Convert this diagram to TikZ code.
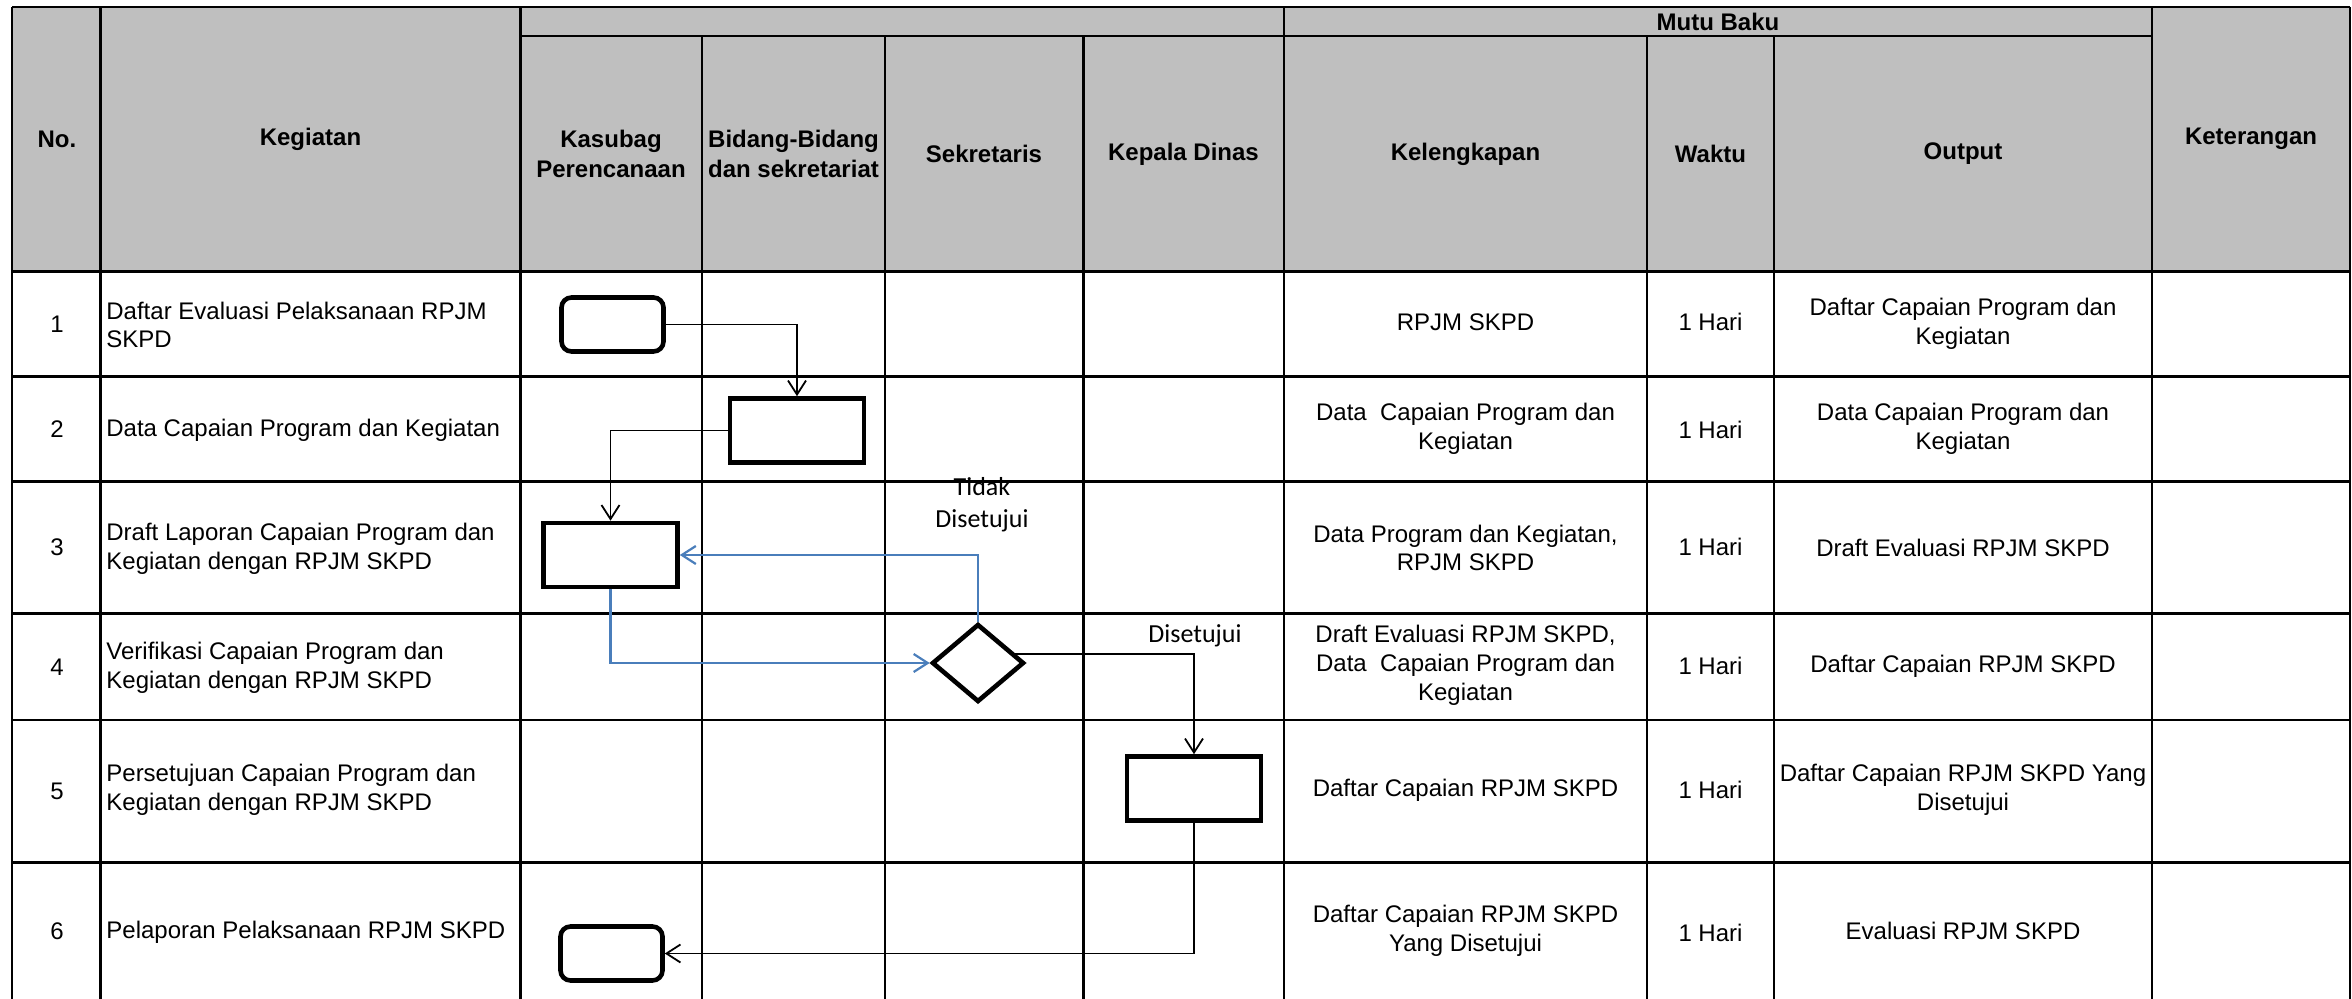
\documentclass[tikz,border=0pt]{standalone}
\usepackage{fontspec}
\setmainfont{Liberation Sans}
\newfontfamily\labelfont{Carlito}
\usetikzlibrary{shapes.geometric,arrows.meta}

\definecolor{hdrgray}{RGB}{191,191,191}
\definecolor{flowblue}{RGB}{74,126,187}

\begin{document}
\begin{tikzpicture}[%
    x=0.5pt, y=-0.5pt,
    grid/.style={line width=1.1pt},
    hdr/.style={font=\fontsize{12}{15}\selectfont\bfseries,align=center,inner sep=0pt},
    cell/.style={font=\fontsize{12}{14.4}\selectfont,align=center,inner sep=0pt},
    kegcell/.style={font=\fontsize{12}{14.4}\selectfont,align=left,anchor=west,inner sep=0pt},
    lbl/.style={font=\labelfont\fontsize{13}{16}\selectfont,align=center,inner sep=0pt},
    term/.style={draw,line width=2.3pt,rounded corners=5pt,minimum width=51pt,minimum height=27pt,inner sep=0pt},
    proc/.style={draw,line width=2.3pt,minimum width=67pt,minimum height=32pt,inner sep=0pt},
    decide/.style={draw,diamond,line width=2.3pt,minimum width=46pt,minimum height=39pt,inner sep=0pt},
    flow/.style={line width=0.9pt,-{Straight Barb[length=7pt,width=9pt]}},
    flowb/.style={flow,draw=flowblue,line width=1.1pt}
  ]
		\useasboundingbox (0,0) rectangle (2352,999);

		% header
		\fill[hdrgray] (12,7) rectangle (2350,271.5);
		\draw[grid] (12,7) -- (2350,7);
		\draw[grid] (520.5,36) -- (2152,36);
		\draw[grid] (12,271.5) -- (2350,271.5);
		\draw[grid] (12,376.5) -- (2350,376.5);
		\draw[grid] (12,481.5) -- (2350,481.5);
		\draw[grid] (12,613.5) -- (2350,613.5);
		\draw[grid] (12,720) -- (2350,720);
		\draw[grid] (12,862.5) -- (2350,862.5);

		\draw[grid] (12,7) -- (12,999);
		\draw[grid] (100.5,7) -- (100.5,999);
		\draw[grid] (520.5,7) -- (520.5,999);
		\draw[grid] (1284,7) -- (1284,999);
		\draw[grid] (2152,7) -- (2152,999);
		\draw[grid] (2350,7) -- (2350,999);
		\draw[grid] (702,36) -- (702,999);
		\draw[grid] (885,36) -- (885,999);
		\draw[grid] (1083.5,36) -- (1083.5,999);
		\draw[grid] (1647,36) -- (1647,999);
		\draw[grid] (1774,36) -- (1774,999);

		\node at (57,139) [hdr] (hno) {No.};
		\node at (310.5,139) [hdr] (hkeg) {Kegiatan};
		\node at (1718,22) [hdr] (hmutu) {Mutu Baku};
		\node at (611,154) [hdr] (hkas) {Kasubag\\Perencanaan};
		\node at (793.5,154) [hdr] (hbid) {Bidang-Bidang\\dan sekretariat};
		\node at (984,154) [hdr] (hsek) {Sekretaris};
		\node at (1183.5,154) [hdr] (hkep) {Kepala Dinas};
		\node at (1465.5,154) [hdr] (hkel) {Kelengkapan};
		\node at (1710.5,154) [hdr] (hwak) {Waktu};
		\node at (1963,154) [hdr] (hout) {Output};
		\node at (2251,139) [hdr] (hket) {Keterangan};

		% rows
		\node at (57,324) [cell] (no1) {1};
		\node at (57,429) [cell] (no2) {2};
		\node at (57,547.5) [cell] (no3) {3};
		\node at (57,667) [cell] (no4) {4};
		\node at (57,791) [cell] (no5) {5};
		\node at (57,931) [cell] (no6) {6};

		\node at (106,325) [kegcell] (keg1) {Daftar Evaluasi Pelaksanaan RPJM\\SKPD};
		\node at (106,430) [kegcell] (keg2) {Data Capaian Program dan Kegiatan};
		\node at (106,548.5) [kegcell] (keg3) {Draft Laporan Capaian Program dan\\Kegiatan dengan RPJM SKPD};
		\node at (106,668) [kegcell] (keg4) {Verifikasi Capaian Program dan\\Kegiatan dengan RPJM SKPD};
		\node at (106,790) [kegcell] (keg5) {Persetujuan Capaian Program dan\\Kegiatan dengan RPJM SKPD};
		\node at (106,932) [kegcell] (keg6) {Pelaporan Pelaksanaan RPJM SKPD};

		\node at (1465.5,322) [cell] (kel1) {RPJM SKPD};
		\node at (1465.5,429) [cell] (kel2) {Data\ \ Capaian Program dan\\Kegiatan};
		\node at (1465.5,548) [cell] (kel3) {Data Program dan Kegiatan,\\RPJM SKPD};
		\node at (1465.5,665) [cell] (kel4) {Draft Evaluasi RPJM SKPD,\\Data\ \ Capaian Program dan\\Kegiatan};
		\node at (1465.5,790) [cell] (kel5) {Daftar Capaian RPJM SKPD};
		\node at (1465.5,931) [cell] (kel6) {Daftar Capaian RPJM SKPD\\Yang Disetujui};

		\node at (1710.5,322) [cell] (wak1) {1 Hari};
		\node at (1710.5,430) [cell] (wak2) {1 Hari};
		\node at (1710.5,547) [cell] (wak3) {1 Hari};
		\node at (1710.5,666) [cell] (wak4) {1 Hari};
		\node at (1710.5,790) [cell] (wak5) {1 Hari};
		\node at (1710.5,933) [cell] (wak6) {1 Hari};

		\node at (1963,324) [cell] (out1) {Daftar Capaian Program dan\\Kegiatan};
		\node at (1963,429) [cell] (out2) {Data Capaian Program dan\\Kegiatan};
		\node at (1963,548) [cell] (out3) {Draft Evaluasi RPJM SKPD};
		\node at (1963,666) [cell] (out4) {Daftar Capaian RPJM SKPD};
		\node at (1963,790) [cell] (out5) {Daftar Capaian RPJM SKPD Yang\\Disetujui};
		\node at (1963,931) [cell] (out6) {Evaluasi RPJM SKPD};

		% flow
		\node at (612.5,324.5) [term] (t1) {};
		\node at (797,430.5) [proc] (p2) {};
		\node at (610.5,555) [proc] (p3) {};
		\node at (978,663) [decide] (d4) {};
		\node at (1194,788.5) [proc] (p5) {};
		\node at (611.5,953.5) [term] (t6) {};

		\node at (982,505) [lbl] (lblno) {Tidak\\Disetujui};
		\node at (1195,636) [lbl] (lblyes) {Disetujui};

		\draw[flow] (t1.east) -| (p2.north);
		\draw[flow] (p2.west) -| (p3.north);
		\draw[flowb] (p3.south) |- (d4.west);
		\draw[flowb] (d4.north) |- (p3.east);
		\draw[flow] (d4.14) -| (p5.north);
		\draw[flow] (p5.south) |- (t6.east);
	\end{tikzpicture}
\end{document}
